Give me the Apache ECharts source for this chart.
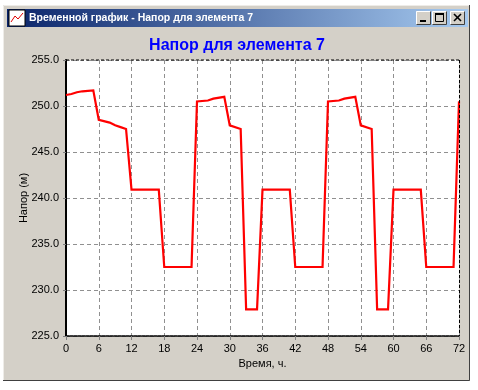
<!DOCTYPE html>
<html><head><meta charset="utf-8">
<style>html,body{margin:0;padding:0;background:#fff}#c{width:478px;height:390px}</style>
<script src="https://cdn.jsdelivr.net/npm/echarts@6/dist/echarts.min.js"></script>
</head><body><div id="c"></div>
<script>
var hours=[0,1,2,3,5,6,8,9,10,11,12,17,18,23,24,26,27,29,30,32,33,35,36,41,42,47,48,50,51,53,54,56,57,59,60,65,66,71,72];
var head=[251.2,251.3,251.5,251.6,251.7,248.5,248.2,247.9,247.7,247.5,240.9,240.9,232.5,232.5,250.5,250.6,250.8,251,247.9,247.5,227.9,227.9,240.9,240.9,232.5,232.5,250.5,250.6,250.8,251,247.9,247.5,227.9,227.9,240.9,240.9,232.5,232.5,250.5];
var chartTitle='Напор для элемента 7';
var windowTitle='Временной график - Напор для элемента 7';
var xName='Время, ч.';
var yName='Напор (м)';
var font='"Liberation Sans",Arial,sans-serif';
var chart=echarts.init(document.getElementById('c'),null,{renderer:'canvas'});
function btn(x,shape){
  var kids=[
    {type:'rect',shape:{x:x,y:11,width:15,height:14},style:{fill:'#d4d0c8',stroke:null}},
    {type:'polyline',shape:{points:[[x+.5,24.5],[x+.5,11.5],[x+14.5,11.5]]},style:{stroke:'#fff',fill:null,lineWidth:1}},
    {type:'polyline',shape:{points:[[x+.5,24.5],[x+14.5,24.5],[x+14.5,11.5]]},style:{stroke:'#404040',fill:null,lineWidth:1}}
  ];
  return kids.concat(shape);
}
var buttons=[].concat(
  btn(416,[{type:'rect',shape:{x:420,y:20,width:6,height:2},style:{fill:'#000'}}]),
  btn(432,[{type:'rect',shape:{x:435.5,y:13.5,width:8,height:8},style:{fill:null,stroke:'#000',lineWidth:1}},{type:'rect',shape:{x:435,y:13,width:9,height:2},style:{fill:'#000'}}]),
  btn(450,[{type:'line',shape:{x1:454,y1:14,x2:461,y2:21},style:{stroke:'#000',lineWidth:1.6}},{type:'line',shape:{x1:461,y1:14,x2:454,y2:21},style:{stroke:'#000',lineWidth:1.6}}])
);
var chrome=[
  {type:'rect',z:-10,shape:{x:3,y:5,width:467,height:376},style:{fill:'#d4d0c8',stroke:null}},
  {type:'polyline',z:-9,shape:{points:[[3.5,381],[3.5,5.5],[470,5.5]]},style:{stroke:'#eeece8',fill:null,lineWidth:1}},
  {type:'polyline',z:-9,shape:{points:[[3,380.5],[469.5,380.5],[469.5,5]]},style:{stroke:'#404040',fill:null,lineWidth:1}},
  {type:'rect',z:-9,shape:{x:7,y:9,width:461,height:18},style:{fill:new echarts.graphic.LinearGradient(0,0,1,0,[{offset:0,color:'#0a246a'},{offset:1,color:'#a6caf0'}])}},
  {type:'text',z:-8,style:{x:29,y:18,text:windowTitle,fill:'#fff',font:'bold 10.5px '+font,textVerticalAlign:'middle'}},
  {type:'rect',z:-8,shape:{x:9,y:10,width:16,height:16},style:{fill:'#fff',stroke:'#000'}},
  {type:'polyline',z:-7,shape:{points:[[11,22],[15,16],[18,19],[23,13]]},style:{stroke:'#e00000',fill:null,lineWidth:1}}
].concat(buttons.map(function(b){b.z=-8;return b;}));
var dashTop=[{type:'line',z:5,shape:{x1:66,y1:60,x2:459,y2:60},style:{stroke:'#000',lineDash:[3,2],lineWidth:1}},
 {type:'line',z:5,shape:{x1:459.5,y1:60,x2:459.5,y2:336},style:{stroke:'#000',lineDash:[3,2],lineWidth:1}}];
chart.setOption({
  animation:false,
  backgroundColor:'#fff',
  title:{text:chartTitle,left:232,top:33,textAlign:'center',textStyle:{color:'#0000ff',fontFamily:font,fontSize:16,fontWeight:'bold'}},
  grid:{left:66,top:60,width:393,height:276,backgroundColor:'#fff',show:true,borderWidth:0},
  xAxis:{type:'value',min:0,max:72,interval:6,name:xName,nameLocation:'middle',nameGap:22,nameMoveOverlap:false,
    nameTextStyle:{color:'#000',fontFamily:font,fontSize:11},
    axisLine:{show:true,onZero:false,lineStyle:{color:'#000',width:1.5,type:[3,1]}},
    axisTick:{show:true,length:4,lineStyle:{color:'#808080'}},
    axisLabel:{color:'#000',fontFamily:font,fontSize:11,margin:7},
    splitLine:{show:true,lineStyle:{color:'#909090',type:[4,3],width:1}}},
  yAxis:{type:'value',min:225,max:255,interval:5,name:yName,nameLocation:'middle',nameGap:37,nameMoveOverlap:false,
    nameTextStyle:{color:'#000',fontFamily:font,fontSize:11},
    axisLine:{show:true,onZero:false,lineStyle:{color:'#000',width:2}},
    axisTick:{show:true,length:3,lineStyle:{color:'#808080'}},
    axisLabel:{color:'#000',fontFamily:font,fontSize:11,margin:7,formatter:function(v){return v.toFixed(1);}},
    splitLine:{show:true,lineStyle:{color:'#909090',type:[4,3],width:1}}},
  series:[{type:'line',data:hours.map(function(h,i){return [h,head[i]];}),showSymbol:false,symbol:'none',clip:false,
    lineStyle:{color:'#ff0000',width:2.2,join:'miter'}}],
  graphic:{elements:chrome.concat(dashTop)}
});
</script></body></html>
